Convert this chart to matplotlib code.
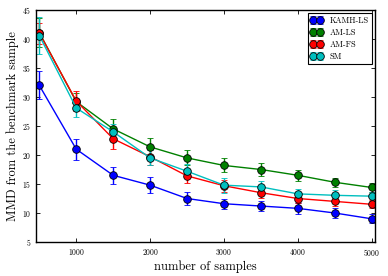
import numpy as np
import matplotlib
matplotlib.use("Agg")
import matplotlib.pyplot as plt

plt.rcParams['font.family'] = ['cmr10', 'DejaVu Serif']
plt.rcParams['axes.formatter.use_mathtext'] = True
plt.rcParams['mathtext.fontset'] = 'cm'

n_samples = [500, 1000, 1500, 2000, 2500, 3000, 3500, 4000, 4500, 5000]

kamh_ls = [32.0, 21.0, 16.5, 14.8, 12.5, 11.6, 11.2, 10.8, 10.0, 9.0]
kamh_ls_err = [2.4, 1.8, 1.5, 1.4, 1.2, 0.9, 0.9, 0.9, 0.8, 0.8]

am_ls = [41.1, 29.2, 24.5, 21.4, 19.5, 18.2, 17.5, 16.5, 15.3, 14.4]
am_ls_err = [2.5, 1.5, 1.7, 1.5, 1.3, 1.2, 1.1, 0.9, 0.8, 0.8]

am_fs = [41.0, 29.3, 22.8, 19.7, 16.4, 14.7, 13.5, 12.5, 12.0, 11.5]
am_fs_err = [1.8, 1.8, 1.7, 1.4, 1.2, 1.0, 0.9, 0.8, 0.8, 0.7]

sm = [40.6, 28.1, 24.0, 19.5, 17.2, 14.8, 14.5, 13.3, 13.05, 12.9]
sm_err = [3.2, 1.6, 1.4, 1.3, 1.2, 1.3, 1.1, 0.9, 0.9, 0.8]

series = [
    ("KAMH-LS", kamh_ls, kamh_ls_err, "b"),
    ("AM-LS", am_ls, am_ls_err, "g"),
    ("AM-FS", am_fs, am_fs_err, "r"),
    ("SM", sm, sm_err, "c"),
]

fig = plt.figure(figsize=(3.88, 2.76), dpi=100)
ax = fig.add_axes([36/388, 1 - 242/276, (375-36)/388, (242-10)/276])

for name, y, err, c in series:
    ax.errorbar(n_samples, y, yerr=err, color=c, marker='o', markersize=5.5,
                markeredgecolor='k', markeredgewidth=0.6, linewidth=1.0,
                elinewidth=1.0, capsize=2.5, ecolor=c, label=name)

ax.set_xlim(455, 5045)
ax.set_ylim(5, 45)
ax.set_xticks([1000, 2000, 3000, 4000, 5000])
ax.set_yticks(np.arange(5, 46, 5))
ax.tick_params(direction='in', top=True, right=True, labelsize=5.5, length=3, width=0.6)
for s in ax.spines.values():
    s.set_linewidth(1.0)

ax.set_xlabel("number of samples", fontsize=9, labelpad=2)
ax.set_ylabel("MMD from the benchmark sample", fontsize=9, labelpad=2)

leg = ax.legend(loc='upper right', fontsize=6, numpoints=2, fancybox=False,
                framealpha=1, edgecolor='k', borderpad=0.35, labelspacing=0.45,
                handlelength=1.5, handletextpad=0.8, borderaxespad=0.4)
leg.get_frame().set_linewidth(0.8)

fig.savefig("out.png", dpi=100)
